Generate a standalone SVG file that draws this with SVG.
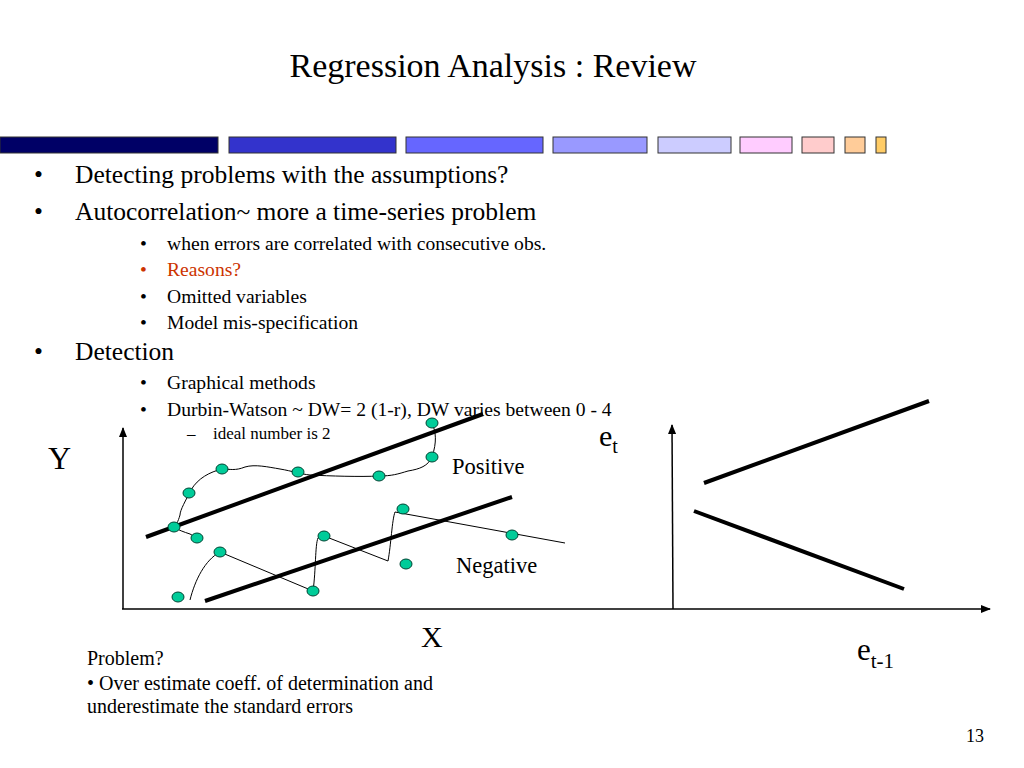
<svg xmlns="http://www.w3.org/2000/svg" width="1024" height="768" viewBox="0 0 1024 768">
<style>
text{font-family:"Liberation Serif","Times New Roman",serif;fill:#000}
.t1{font-size:25.5px}
.t2{font-size:19.6px}
.t3{font-size:17px}
.bar{stroke:#333;stroke-width:1}
.axis{stroke:#000;stroke-width:1.5;fill:none}
.reg{stroke:#000;stroke-width:4;fill:none}
.curve{stroke:#000;stroke-width:1;fill:none}
.dot{fill:#00CC99;stroke:#004433;stroke-width:1}
</style>
<defs>
<marker id="arr" markerWidth="10" markerHeight="8" refX="9" refY="4" orient="auto" markerUnits="userSpaceOnUse">
<path d="M0,0 L10,4 L0,8 z" fill="#000"/>
</marker>
</defs>
<rect width="1024" height="768" fill="#fff"/>
<text x="493" y="77" font-size="34" text-anchor="middle">Regression Analysis : Review</text>
<g id="colorbar">
<rect class="bar" x="0" y="137" width="218" height="16" fill="#000066"/>
<rect class="bar" x="229" y="137" width="167" height="16" fill="#3333CC"/>
<rect class="bar" x="406" y="137" width="137" height="16" fill="#6666FF"/>
<rect class="bar" x="553" y="137" width="94" height="16" fill="#9999FF"/>
<rect class="bar" x="658" y="137" width="73" height="16" fill="#CCCCFF"/>
<rect class="bar" x="740" y="137" width="52" height="16" fill="#FFCCFF"/>
<rect class="bar" x="802" y="137" width="32" height="16" fill="#FFCCCC"/>
<rect class="bar" x="845" y="137" width="20" height="16" fill="#FFCC99"/>
<rect class="bar" x="876" y="137" width="10" height="16" fill="#FFCC66"/>
</g>
<g id="bullets">
<text class="t1" x="34" y="183">•</text><text class="t1" x="75" y="183">Detecting problems with the assumptions?</text>
<text class="t1" x="34" y="220">•</text><text class="t1" x="75" y="220">Autocorrelation~ more a time-series problem</text>
<text class="t2" x="140" y="250">•</text><text class="t2" x="167" y="250">when errors are correlated with consecutive obs.</text>
<text class="t2" x="140" y="276" style="fill:#CC3300">•</text><text class="t2" x="167" y="276" style="fill:#CC3300">Reasons?</text>
<text class="t2" x="140" y="303">•</text><text class="t2" x="167" y="303">Omitted variables</text>
<text class="t2" x="140" y="329">•</text><text class="t2" x="167" y="329">Model mis-specification</text>
<text class="t1" x="34" y="360">•</text><text class="t1" x="75" y="360">Detection</text>
<text class="t2" x="140" y="389">•</text><text class="t2" x="167" y="389">Graphical methods</text>
<text class="t2" x="140" y="416">•</text><text class="t2" x="167" y="416">Durbin-Watson ~ DW= 2 (1-r), DW varies between 0 - 4</text>
<text class="t3" x="187" y="439">–</text><text class="t3" x="213" y="439">ideal number is 2</text>
</g>
<g id="connectors">
<line class="axis" x1="123" y1="609" x2="123" y2="428" marker-end="url(#arr)"/>
<line class="axis" x1="122" y1="609" x2="990" y2="609" marker-end="url(#arr)"/>
<line class="axis" x1="673" y1="609" x2="672" y2="425" marker-end="url(#arr)"/>
<line class="reg" x1="146" y1="537" x2="483" y2="414"/>
<line class="reg" x1="205" y1="601" x2="512" y2="497"/>
<line class="reg" x1="704" y1="483" x2="929" y2="401"/>
<line class="reg" x1="694" y1="511" x2="904" y2="589"/>
<path class="curve" d="M432,423 C436,432 437,442 432,457 C428,466 420,469 408,471 C398,474 392,476 379,476 C360,477 330,476 310,475 C300,474 292,471 280,469 C268,467 255,464 245,467 C235,471 230,469 222,469 C210,472 198,478 191,490 C186,500 180,510 180,515 C178,522 176,525 174,527 C178,530 184,532 190,534 L197,538"/>
<path class="curve" d="M190,600 C195,580 205,560 220,552 L313,591 C316,570 315,545 318,538 C320,536 322,536 324,536 L388,561 C391,545 392,520 395,512 L565,543"/>
</g>
<g id="dots">
<ellipse class="dot" cx="432" cy="423" rx="6" ry="5"/>
<ellipse class="dot" cx="432" cy="457" rx="6" ry="5"/>
<ellipse class="dot" cx="379" cy="476" rx="6" ry="5"/>
<ellipse class="dot" cx="298" cy="472" rx="6" ry="5"/>
<ellipse class="dot" cx="222" cy="469" rx="6" ry="5"/>
<ellipse class="dot" cx="189" cy="493" rx="6" ry="5"/>
<ellipse class="dot" cx="174" cy="527" rx="6" ry="5"/>
<ellipse class="dot" cx="197" cy="538" rx="6" ry="5"/>
<ellipse class="dot" cx="178" cy="597" rx="6" ry="5"/>
<ellipse class="dot" cx="220" cy="552" rx="6" ry="5"/>
<ellipse class="dot" cx="313" cy="591" rx="6" ry="5"/>
<ellipse class="dot" cx="324" cy="536" rx="6" ry="5"/>
<ellipse class="dot" cx="403" cy="509" rx="6" ry="5"/>
<ellipse class="dot" cx="512" cy="535" rx="6" ry="5"/>
<ellipse class="dot" cx="406" cy="564" rx="6" ry="5"/>
</g>
<g id="labels">
<text x="48" y="469" font-size="32">Y</text>
<text x="421" y="647" font-size="30">X</text>
<text x="452" y="474" font-size="22.5">Positive</text>
<text x="456" y="573" font-size="22.5">Negative</text>
<text x="599" y="446" font-size="30">e<tspan font-size="20" dy="7">t</tspan></text>
<text x="857" y="660" font-size="31">e<tspan font-size="21" dy="8">t-1</tspan></text>
</g>
<g id="problem">
<text x="87" y="665" font-size="20">Problem?</text>
<text x="87" y="690" font-size="20">• Over estimate coeff. of determination and</text>
<text x="87" y="713" font-size="20">underestimate the standard errors</text>
</g>
<text x="966" y="742" font-size="18">13</text>
</svg>
